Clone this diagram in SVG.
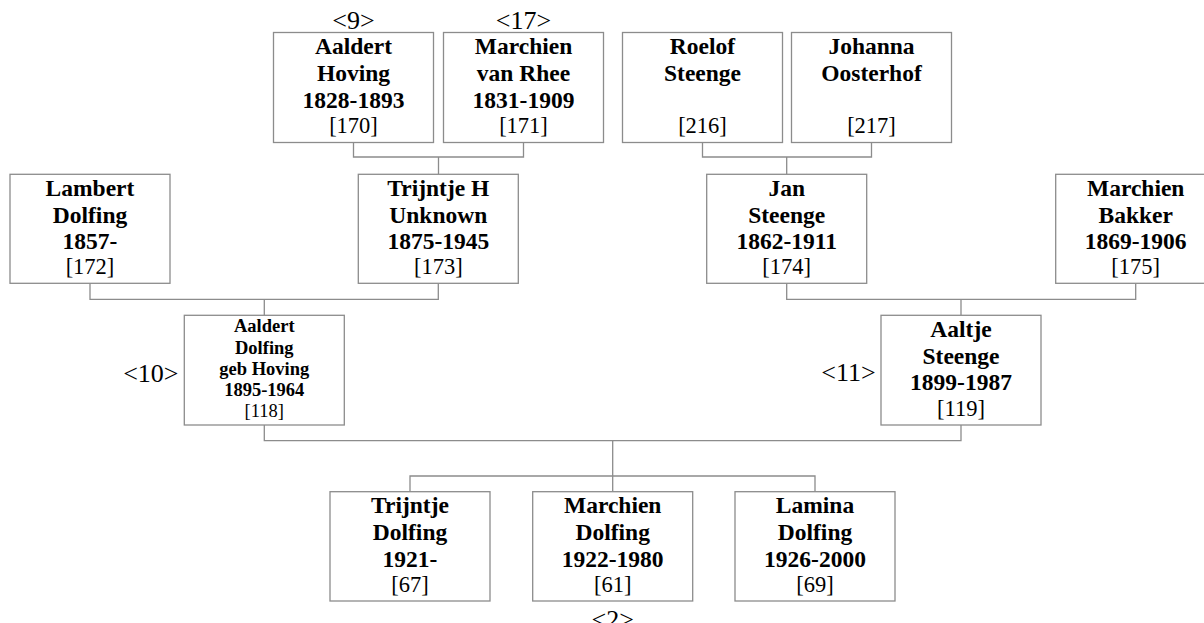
<svg xmlns="http://www.w3.org/2000/svg" width="1204" height="623" viewBox="0 0 1204 623">
<style>
rect.box{fill:#fff;stroke:#8c8c8c;stroke-width:1.3}
.c path{fill:none;stroke:#8c8c8c;stroke-width:1.3}
text{font-family:'Liberation Serif','Tinos','Times New Roman','Nimbus Roman','DejaVu Serif',serif;text-anchor:middle;fill:#000}
.b{font-weight:bold;font-size:23.5px}
.r{font-size:22.5px}
.sb{font-weight:bold;font-size:18.5px}
.sr{font-size:18.5px}
.lab{font-size:26px}
</style>
<rect width="1204" height="623" fill="#fff"/>
<g class="c" id="connectors">
<path d="M353.5,142.5V157H523.5V142.5M438.5,157V174.3"/>
<path d="M702.5,142.5V157H871.5V142.5M786.7,157V174.3"/>
<path d="M90,283.3V299.3H438.3V283.3M264.3,299.3V315.3"/>
<path d="M786.7,283.3V299.3H1135.7V283.3M961,299.3V315.3"/>
<path d="M264.3,425V440.7H961V425M612.7,440.7V491.7"/>
<path d="M410,491.7V476H815V491.7"/>
</g>
<g id="n170"><rect class="box" x="273.5" y="32.5" width="160" height="110"/>
<text class="b" x="353.5" y="54">Aaldert</text><text class="b" x="353.5" y="80.8">Hoving</text><text class="b" x="353.5" y="107.5">1828-1893</text><text class="r" x="353.5" y="133">[170]</text></g>
<g id="n171"><rect class="box" x="443.5" y="32.5" width="160" height="110"/>
<text class="b" x="523.5" y="54">Marchien</text><text class="b" x="523.5" y="80.8">van Rhee</text><text class="b" x="523.5" y="107.5">1831-1909</text><text class="r" x="523.5" y="133">[171]</text></g>
<g id="n216"><rect class="box" x="622.5" y="32.5" width="160" height="110"/>
<text class="b" x="702.5" y="54">Roelof</text><text class="b" x="702.5" y="80.8">Steenge</text><text class="r" x="702.5" y="133">[216]</text></g>
<g id="n217"><rect class="box" x="791.5" y="32.5" width="160" height="110"/>
<text class="b" x="871.5" y="54">Johanna</text><text class="b" x="871.5" y="80.8">Oosterhof</text><text class="r" x="871.5" y="133">[217]</text></g>
<g id="n172"><rect class="box" x="10" y="174.3" width="160" height="109"/>
<text class="b" x="90" y="195.8">Lambert</text><text class="b" x="90" y="222.6">Dolfing</text><text class="b" x="90" y="249.3">1857-</text><text class="r" x="90" y="274.3">[172]</text></g>
<g id="n173"><rect class="box" x="358.3" y="174.3" width="160" height="109"/>
<text class="b" x="438.3" y="195.8">Trijntje H</text><text class="b" x="438.3" y="222.6">Unknown</text><text class="b" x="438.3" y="249.3">1875-1945</text><text class="r" x="438.3" y="274.3">[173]</text></g>
<g id="n174"><rect class="box" x="706.7" y="174.3" width="160" height="109"/>
<text class="b" x="786.7" y="195.8">Jan</text><text class="b" x="786.7" y="222.6">Steenge</text><text class="b" x="786.7" y="249.3">1862-1911</text><text class="r" x="786.7" y="274.3">[174]</text></g>
<g id="n175"><rect class="box" x="1055.7" y="174.3" width="160" height="109"/>
<text class="b" x="1135.7" y="195.8">Marchien</text><text class="b" x="1135.7" y="222.6">Bakker</text><text class="b" x="1135.7" y="249.3">1869-1906</text><text class="r" x="1135.7" y="274.3">[175]</text></g>
<g id="n118"><rect class="box" x="184.3" y="315.3" width="160" height="109.7"/>
<text class="sb" x="264.3" y="332.3">Aaldert</text><text class="sb" x="264.3" y="353.5">Dolfing</text><text class="sb" x="264.3" y="374.7">geb Hoving</text><text class="sb" x="264.3" y="395.9">1895-1964</text><text class="sr" x="264.3" y="417">[118]</text></g>
<g id="n119"><rect class="box" x="881" y="315.3" width="160" height="109.7"/>
<text class="b" x="961" y="336.8">Aaltje</text><text class="b" x="961" y="363.5">Steenge</text><text class="b" x="961" y="390">1899-1987</text><text class="r" x="961" y="415.5">[119]</text></g>
<g id="n67"><rect class="box" x="330" y="491.7" width="160" height="109.3"/>
<text class="b" x="410" y="513.2">Trijntje</text><text class="b" x="410" y="540">Dolfing</text><text class="b" x="410" y="566.7">1921-</text><text class="r" x="410" y="592.2">[67]</text></g>
<g id="n61"><rect class="box" x="532.7" y="491.7" width="160" height="109.3"/>
<text class="b" x="612.7" y="513.2">Marchien</text><text class="b" x="612.7" y="540">Dolfing</text><text class="b" x="612.7" y="566.7">1922-1980</text><text class="r" x="612.7" y="592.2">[61]</text></g>
<g id="n69"><rect class="box" x="735" y="491.7" width="160" height="109.3"/>
<text class="b" x="815" y="513.2">Lamina</text><text class="b" x="815" y="540">Dolfing</text><text class="b" x="815" y="566.7">1926-2000</text><text class="r" x="815" y="592.2">[69]</text></g>
<g id="labels">
<text class="lab" x="353.5" y="29">&lt;9&gt;</text>
<text class="lab" x="523.5" y="29">&lt;17&gt;</text>
<text class="lab" x="178.5" y="381.5" style="text-anchor:end">&lt;10&gt;</text>
<text class="lab" x="875.7" y="380.7" style="text-anchor:end">&lt;11&gt;</text>
<text class="lab" x="612.7" y="628">&lt;2&gt;</text>
</g>
</svg>
